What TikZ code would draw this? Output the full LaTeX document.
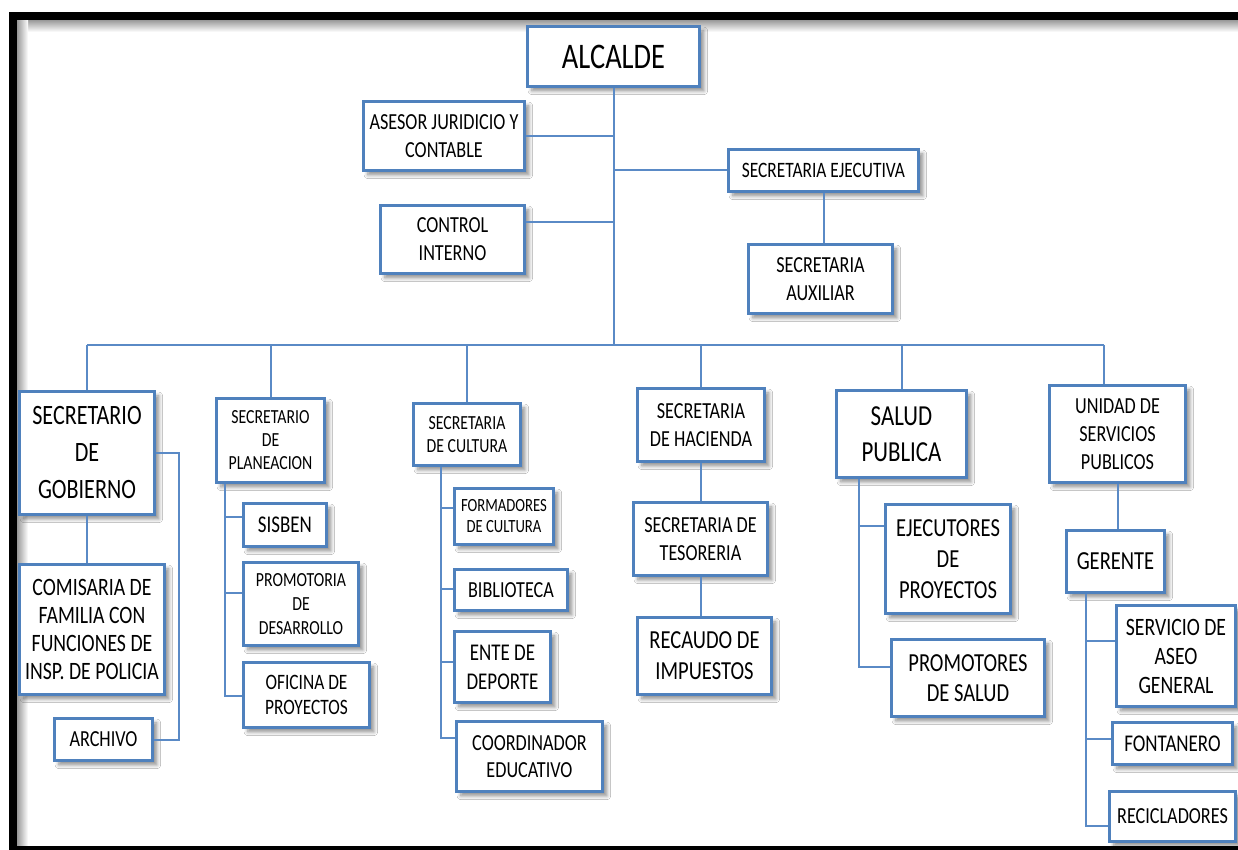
\documentclass[tikz,border=0pt]{standalone}
\usepackage{fontspec}
\setmainfont{Carlito}[FakeStretch=0.79]
\usetikzlibrary{shadows,shadows.blur,calc}
\definecolor{bxblue}{HTML}{4F81BD}
\definecolor{lnblue}{HTML}{5A8AC6}
\newcommand\fsz[2]{\fontsize{#1pt}{#2pt}\selectfont}
\newcommand\bx[8]{%
  \node[box, minimum width={(#4-#2)*0.5pt-1.5pt}, minimum height={(#5-#3)*0.5pt-1.5pt},
        font=\fsz{#6}{#7}] (#1) at ({(#2+#4)/2},{(#3+#5)/2}) {#8};}
\tikzset{
  box/.style={draw=bxblue, line width=1.5pt, fill=white, align=center, inner sep=1pt,
    blur shadow={shadow xshift=2.2pt, shadow yshift=-2.2pt, shadow blur steps=6, shadow opacity=45}},
  conn/.style={draw=lnblue, line width=1pt}
}
\begin{document}
\begin{tikzpicture}[x=0.5pt,y=-0.5pt]
\useasboundingbox (0,0) rectangle (1238,850);
\clip (0,0) rectangle (1238,850);
\fill[white] (0,0) rectangle (1238,850);
% frame and its inner shadow
\shade[top color=black!40, bottom color=white] (17,20) rectangle (1238,32);
\shade[left color=black!40, right color=white] (17,20) rectangle (28,846);
\draw[line width=4pt] (13,16) rectangle (1260,850);

% boxes
\bx{alc}{526}{25}{701}{88}{18}{21}{ALCALDE}
\bx{ase}{362}{100}{526}{172}{11.5}{14}{ASESOR JURIDICIO Y\\CONTABLE}
\bx{con}{379}{204}{526}{275}{11.5}{14}{CONTROL\\INTERNO}
\bx{sej}{727}{148}{920}{193}{11}{13}{SECRETARIA EJECUTIVA}
\bx{aux}{747}{243}{894}{315}{11.5}{14}{SECRETARIA\\AUXILIAR}
\bx{gob}{18}{390}{156}{516}{14}{18.5}{SECRETARIO\\DE\\GOBIERNO}
\bx{com}{18}{563}{166}{696}{12.5}{14}{COMISARIA DE\\FAMILIA CON\\FUNCIONES DE\\INSP. DE POLICIA}
\bx{arc}{53}{717}{154}{762}{11.5}{14}{ARCHIVO}
\bx{pla}{215}{397}{326}{484}{10}{11.5}{SECRETARIO\\DE\\PLANEACION}
\bx{sis}{242}{502}{328}{548}{12}{14}{SISBEN}
\bx{pro}{242}{561}{360}{647}{10}{11.8}{PROMOTORIA\\DE\\DESARROLLO}
\bx{ofi}{242}{661}{371}{729}{11}{12.8}{OFICINA DE\\PROYECTOS}
\bx{cul}{412}{402}{522}{467}{10}{11.5}{SECRETARIA\\DE CULTURA}
\bx{frm}{453}{487}{555}{546}{9.3}{10.5}{FORMADORES\\DE CULTURA}
\bx{bib}{453}{568}{569}{612}{11.5}{14}{BIBLIOTECA}
\bx{ent}{453}{630}{552}{704}{12}{14.5}{ENTE DE\\DEPORTE}
\bx{coo}{455}{720}{604}{793}{11.5}{13.5}{COORDINADOR\\EDUCATIVO}
\bx{hac}{636}{387}{766}{463}{11.5}{14.3}{SECRETARIA\\DE HACIENDA}
\bx{tes}{632}{501}{769}{577}{11.5}{14}{SECRETARIA DE\\TESORERIA}
\bx{rec}{636}{616}{773}{696}{13}{15.5}{RECAUDO DE\\IMPUESTOS}
\bx{sal}{835}{389}{968}{479}{14.5}{18}{SALUD\\PUBLICA}
\bx{eje}{884}{503}{1012}{615}{13}{15.5}{EJECUTORES\\DE\\PROYECTOS}
\bx{prs}{890}{638}{1046}{718}{13}{15.3}{PROMOTORES\\DE SALUD}
\bx{uni}{1048}{384}{1187}{484}{11.5}{14}{UNIDAD DE\\SERVICIOS\\PUBLICOS}
\bx{ger}{1065}{529}{1166}{594}{13}{15}{GERENTE}
\bx{ser}{1115}{604}{1237}{708}{12.5}{14.5}{SERVICIO DE\\ASEO\\GENERAL}
\bx{fon}{1111}{721}{1234}{766}{12}{14}{FONTANERO}
\bx{recic}{1108}{790}{1237}{843}{11.5}{14}{RECICLADORES}

% connectors
\coordinate (busL) at (87,345);
\coordinate (busR) at (1104,345);
\draw[conn] (busL) -- (busR);
\draw[conn] (alc.south) -- (alc.south |- busL);
\draw[conn] (ase.east) -- (ase.east -| alc.south);
\draw[conn] ($(con.north east)!0.25!(con.south east)$) coordinate (c1) -- (c1 -| alc.south);
\draw[conn] (sej.west) -- (sej.west -| alc.south);
\draw[conn] (sej.south) -- (sej.south |- aux.north);
\draw[conn] (gob.north) -- (gob.north |- busL);
\draw[conn] (pla.north) -- (pla.north |- busL);
\draw[conn] (cul.north) -- (cul.north |- busL);
\draw[conn] (hac.north) -- (hac.north |- busL);
\draw[conn] (sal.north) -- (sal.north |- busL);
\draw[conn] (busR) -- (busR |- uni.north);
% gobierno
\draw[conn] (gob.south) -- (gob.south |- com.north);
\draw[conn] (gob.east) -- ++(23,0) |- (arc.east);
% planeacion
\coordinate (ps) at ($(pla.south west)!0.09!(pla.south east)$);
\draw[conn] (ps) |- ($(sis.north west)!0.33!(sis.south west)$);
\draw[conn] (ps) |- ($(pro.north west)!0.37!(pro.south west)$);
\draw[conn] (ps) |- ($(ofi.north west)!0.51!(ofi.south west)$);
% cultura
\coordinate (cs) at ($(cul.south west)!0.264!(cul.south east)$);
\draw[conn] (cs) |- ($(frm.north west)!0.36!(frm.south west)$);
\draw[conn] (cs) |- ($(bib.north west)!0.48!(bib.south west)$);
\draw[conn] (cs) |- ($(ent.north west)!0.43!(ent.south west)$);
\draw[conn] (cs) |- ($(coo.north west)!0.25!(coo.south west)$);
% hacienda
\draw[conn] (hac.south) -- (hac.south |- tes.north);
\draw[conn] (tes.south) -- (tes.south |- rec.north);
% salud
\coordinate (ss) at ($(sal.south west)!0.18!(sal.south east)$);
\draw[conn] (ss) |- ($(eje.north west)!0.205!(eje.south west)$);
\draw[conn] (ss) |- ($(prs.north west)!0.36!(prs.south west)$);
% unidad
\draw[conn] (uni.south) -- (uni.south |- ger.north);
\coordinate (gs) at ($(ger.south west)!0.21!(ger.south east)$);
\draw[conn] (gs) |- ($(ser.north west)!0.36!(ser.south west)$);
\draw[conn] (gs) |- ($(fon.north west)!0.4!(fon.south west)$);
\draw[conn] (gs) |- ($(recic.north west)!0.68!(recic.south west)$);
\end{tikzpicture}
\end{document}
